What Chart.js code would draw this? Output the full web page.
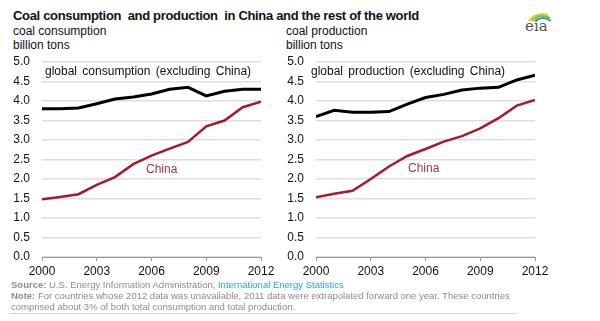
<!DOCTYPE html>
<html>
<head>
<meta charset="utf-8">
<script src="https://cdn.jsdelivr.net/npm/chart.js@4.4.0/dist/chart.umd.min.js"></script>
<style>
  html,body{margin:0;padding:0;background:#fff;}
  body{width:600px;height:321px;position:relative;overflow:hidden;font-family:"Liberation Sans",Arial,sans-serif;}
  .abs{position:absolute;white-space:nowrap;}
  #title{left:13px;top:8px;font-size:13px;font-weight:bold;color:#111;letter-spacing:-0.33px;}
  .sub{font-size:12px;color:#111;line-height:14px;}
  .lbl{font-size:12px;color:#111;word-spacing:2px;}
  .china{font-size:12px;color:#a8344a;}
  canvas{position:absolute;top:0;}
  #foot{left:11px;top:279px;font-size:9.5px;color:#8c8c8c;line-height:11px;}
  #foot b{color:#8c8c8c;}
  #foot a{color:#2aa2dc;text-decoration:none;}
  #rule{left:10px;top:313px;width:506px;height:1px;background:#d5d5d5;}
</style>
</head>
<body>
<div class="abs" id="title">Coal consumption&nbsp; and production&nbsp; in China and the rest of the world</div>
<div class="abs sub" style="left:13px;top:24px;">coal consumption<br>billion tons</div>
<div class="abs sub" style="left:286px;top:24px;">coal production<br>billion tons</div>

<div class="abs" style="left:524px;top:10px;width:30px;height:22px;">
  <svg width="30" height="12" style="position:absolute;left:0;top:0">
    <path d="M5 11 Q12 2 24 5" stroke="#f2c21b" stroke-width="2" fill="none"/>
    <path d="M8 11 Q15 3 26 8" stroke="#7cc242" stroke-width="2" fill="none"/>
    <path d="M11 11 Q19 5 27 11" stroke="#2a9fd8" stroke-width="2" fill="none"/>
  </svg>
  <div style="position:absolute;left:1px;top:7px;font-family:'DejaVu Serif',serif;font-size:15px;color:#555;">eia</div>
</div>

<canvas id="c1" width="290" height="321" style="left:0px;width:290px;height:321px;"></canvas>
<canvas id="c2" width="290" height="321" style="left:274px;width:290px;height:321px;"></canvas>

<div class="abs lbl" style="left:45px;top:64px;">global consumption (excluding China)</div>
<div class="abs china" style="left:146px;top:162px;">China</div>
<div class="abs lbl" style="left:311px;top:64px;">global production (excluding China)</div>
<div class="abs china" style="left:408px;top:161px;">China</div>

<div class="abs" id="foot"><b>Source:</b> U.S. Energy Information Administration, <a>International Energy Statistics</a><br><b>Note:</b> For countries whose 2012 data was unavailable, 2011 data were extrapolated forward one year. These countries<br>comprised about 3% of both total consumption and total production.</div>
<div class="abs" id="rule"></div>

<script>
const years = [2000,2001,2002,2003,2004,2005,2006,2007,2008,2009,2010,2011,2012];
const consumptionWorldExChina = [3.80,3.80,3.82,3.93,4.05,4.10,4.18,4.30,4.35,4.13,4.25,4.30,4.30];
const consumptionChina = [1.48,1.54,1.61,1.85,2.05,2.38,2.60,2.78,2.95,3.35,3.50,3.84,3.98];
const productionWorldExChina = [3.60,3.76,3.71,3.71,3.73,3.92,4.09,4.17,4.28,4.33,4.35,4.54,4.66];
const productionChina = [1.53,1.62,1.70,2.00,2.32,2.59,2.77,2.96,3.10,3.30,3.56,3.88,4.03];
const xTicks = [2000,2003,2006,2009,2012];
const yTicks = [0,0.5,1,1.5,2,2.5,3,3.5,4,4.5,5];

const FONT = {family:'"Liberation Sans", Arial, sans-serif', size:12};

function makeChart(id, world, china){
  const toPts = arr => years.map((y,i)=>({x:y, y:arr[i]}));
  return new Chart(document.getElementById(id), {
    type:'line',
    data:{datasets:[
      {data:toPts(world), borderColor:'#000', borderWidth:3, pointRadius:0, tension:0},
      {data:toPts(china), borderColor:'#a8192e', borderWidth:2.5, pointRadius:0, tension:0}
    ]},
    options:{
      responsive:false, animation:false, devicePixelRatio:1,
      layout:{padding:{left:0,right:29,top:62,bottom:40}},
      plugins:{legend:{display:false}, tooltip:{enabled:false}},
      scales:{
        x:{type:'linear', min:2000, max:2012,
           afterFit:s=>{s.height=24;},
           afterBuildTicks:s=>{s.ticks=xTicks.map(v=>({value:v}));},
           ticks:{font:FONT, color:'#111', padding:3, maxRotation:0, autoSkip:false, callback:v=>String(v)},
           grid:{drawOnChartArea:false, drawTicks:true, tickLength:4, color:'#999', lineWidth:1},
           border:{display:true, color:'#999', width:1}},
        y:{min:0, max:5,
           afterFit:s=>{s.width=42;},
           afterBuildTicks:s=>{s.ticks=yTicks.map(v=>({value:v}));},
           ticks:{font:FONT, color:'#111', padding:12, callback:v=>Number(v).toFixed(1)},
           grid:{drawTicks:false, color:'#dedede', lineWidth:1.5},
           border:{display:false}}
      }
    }
  });
}
makeChart('c1', consumptionWorldExChina, consumptionChina);
makeChart('c2', productionWorldExChina, productionChina);
</script>
</body>
</html>
